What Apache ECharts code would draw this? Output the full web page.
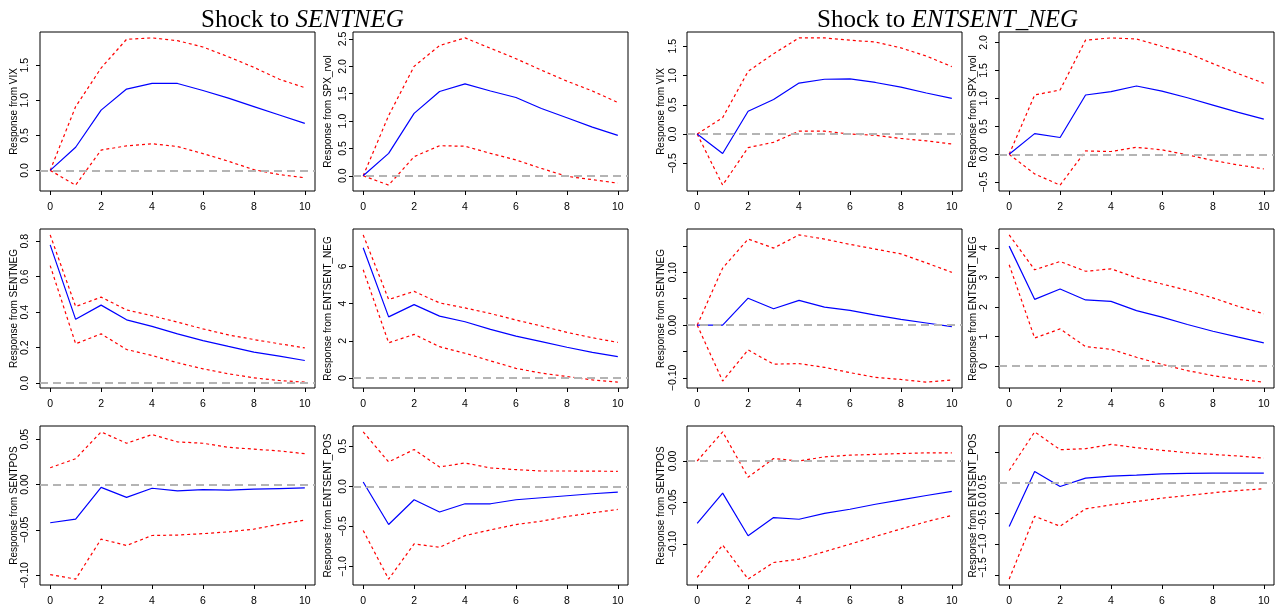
<!DOCTYPE html>
<html>
<head>
<meta charset="utf-8">
<script src="https://cdn.jsdelivr.net/npm/echarts@6/dist/echarts.min.js"></script>
<style>
  html, body { margin: 0; padding: 0; background: #fff; }
  #main { width: 1280px; height: 608px; }
</style>
</head>
<body>
<div id="main"></div>
<script>
// horizon (x axis)
var horizon = [0, 1, 2, 3, 4, 5, 6, 7, 8, 9, 10];
var xTicks = [0, 2, 4, 6, 8, 10];
var xLabels = ['0', '2', '4', '6', '8', '10'];

// ---- shock to SENTNEG ----
var vixNeg   = [0, 0.33, 0.86, 1.16, 1.24, 1.24, 1.14, 1.03, 0.91, 0.79, 0.67];
var vixNegUp = [0, 0.91, 1.46, 1.87, 1.89, 1.85, 1.76, 1.62, 1.47, 1.30, 1.18];
var vixNegLo = [0, -0.21, 0.29, 0.35, 0.38, 0.34, 0.24, 0.13, 0.01, -0.06, -0.105];

var spxNeg   = [0, 0.41, 1.14, 1.54, 1.68, 1.55, 1.43, 1.23, 1.06, 0.89, 0.74];
var spxNegUp = [0, 1.10, 2.00, 2.38, 2.52, 2.33, 2.14, 1.93, 1.73, 1.55, 1.34];
var spxNegLo = [0, -0.17, 0.35, 0.55, 0.54, 0.41, 0.29, 0.135, -0.01, -0.07, -0.135];

var sentnegNeg   = [0.78, 0.36, 0.44, 0.357, 0.32, 0.278, 0.24, 0.207, 0.175, 0.152, 0.128];
var sentnegNegUp = [0.836, 0.432, 0.485, 0.413, 0.38, 0.344, 0.306, 0.272, 0.246, 0.222, 0.199];
var sentnegNegLo = [0.663, 0.222, 0.278, 0.19, 0.156, 0.115, 0.081, 0.053, 0.03, 0.015, 0.006];

var entnegNeg   = [7.0, 3.29, 3.95, 3.33, 3.03, 2.62, 2.26, 1.96, 1.66, 1.39, 1.16];
var entnegNegUp = [7.69, 4.22, 4.66, 4.04, 3.77, 3.47, 3.12, 2.80, 2.46, 2.17, 1.92];
var entnegNegLo = [5.82, 1.90, 2.35, 1.69, 1.34, 0.93, 0.53, 0.27, 0.09, -0.09, -0.21];

var sentposNeg   = [-0.042, -0.038, -0.003, -0.014, -0.004, -0.007, -0.0056, -0.006, -0.005, -0.0044, -0.0037];
var sentposNegUp = [0.0185, 0.0285, 0.058, 0.0455, 0.055, 0.047, 0.0455, 0.041, 0.039, 0.037, 0.034];
var sentposNegLo = [-0.099, -0.104, -0.060, -0.067, -0.056, -0.0555, -0.054, -0.052, -0.049, -0.0437, -0.039];

var entposNeg   = [0.054, -0.476, -0.167, -0.32, -0.217, -0.217, -0.167, -0.142, -0.117, -0.092, -0.071];
var entposNegUp = [0.68, 0.305, 0.46, 0.242, 0.292, 0.23, 0.209, 0.192, 0.192, 0.19, 0.188];
var entposNegLo = [-0.55, -1.157, -0.718, -0.76, -0.614, -0.543, -0.476, -0.434, -0.376, -0.33, -0.288];

// ---- shock to ENTSENT_NEG ----
var vixEnt   = [0, -0.33, 0.39, 0.59, 0.87, 0.935, 0.94, 0.88, 0.80, 0.70, 0.61];
var vixEntUp = [0, 0.28, 1.07, 1.37, 1.64, 1.64, 1.60, 1.57, 1.47, 1.33, 1.15];
var vixEntLo = [0, -0.87, -0.23, -0.14, 0.05, 0.05, 0.0, -0.02, -0.075, -0.115, -0.17];

var spxEnt   = [0, 0.37, 0.30, 1.06, 1.12, 1.22, 1.13, 1.01, 0.88, 0.75, 0.63];
var spxEntUp = [0, 1.06, 1.15, 2.04, 2.08, 2.06, 1.93, 1.81, 1.62, 1.44, 1.27];
var spxEntLo = [0, -0.35, -0.55, 0.06, 0.05, 0.125, 0.08, -0.01, -0.11, -0.19, -0.26];

var sentnegEnt   = [0, 0, 0.051, 0.031, 0.047, 0.034, 0.028, 0.019, 0.011, 0.004, -0.003];
var sentnegEntUp = [0, 0.108, 0.163, 0.146, 0.171, 0.163, 0.153, 0.144, 0.135, 0.118, 0.10];
var sentnegEntLo = [0, -0.106, -0.047, -0.074, -0.073, -0.08, -0.09, -0.099, -0.103, -0.108, -0.104];

var entnegEnt   = [4.06, 2.26, 2.61, 2.24, 2.19, 1.88, 1.66, 1.41, 1.18, 0.98, 0.79];
var entnegEntUp = [4.44, 3.26, 3.54, 3.21, 3.29, 2.99, 2.78, 2.56, 2.31, 2.02, 1.77];
var entnegEntLo = [3.43, 0.95, 1.26, 0.66, 0.57, 0.30, 0.06, -0.15, -0.32, -0.45, -0.54];

var sentposEnt   = [-0.075, -0.0386, -0.0898, -0.068, -0.070, -0.063, -0.058, -0.052, -0.0467, -0.0415, -0.0366];
var sentposEntUp = [0.0, 0.035, -0.0195, 0.003, 0.0, 0.005, 0.007, 0.008, 0.009, 0.0098, 0.0098];
var sentposEntLo = [-0.14, -0.101, -0.142, -0.122, -0.118, -0.109, -0.10, -0.0907, -0.0817, -0.073, -0.0654];

var entposEnt   = [-0.714, 0.185, -0.06, 0.076, 0.109, 0.125, 0.147, 0.153, 0.158, 0.158, 0.158];
var entposEntUp = [0.20, 0.83, 0.54, 0.556, 0.627, 0.572, 0.53, 0.49, 0.463, 0.436, 0.403];
var entposEntLo = [-1.57, -0.545, -0.708, -0.425, -0.36, -0.305, -0.25, -0.207, -0.163, -0.125, -0.098];

// y tick values and their labels
var ticksVix1 = [0, 0.5, 1, 1.5];            var labelsVix1 = ['0.0', '0.5', '1.0', '1.5'];
var ticksSpx1 = [0, 0.5, 1, 1.5, 2, 2.5];    var labelsSpx1 = ['0.0', '0.5', '1.0', '1.5', '2.0', '2.5'];
var ticksSn1  = [0, 0.2, 0.4, 0.6, 0.8];     var labelsSn1  = ['0.0', '0.2', '0.4', '0.6', '0.8'];
var ticksEn1  = [0, 2, 4, 6];                var labelsEn1  = ['0', '2', '4', '6'];
var ticksSp1  = [-0.1, -0.05, 0, 0.05];      var labelsSp1  = ['\u22120.10', '\u22120.05', '0.00', '0.05'];
var ticksEp1  = [-1, -0.5, 0, 0.5];          var labelsEp1  = ['\u22121.0', '\u22120.5', '0.0', '0.5'];
var ticksVix2 = [-0.5, 0, 0.5, 1, 1.5];      var labelsVix2 = ['\u22120.5', '0.0', '0.5', '1.0', '1.5'];
var ticksSpx2 = [-0.5, 0, 0.5, 1, 1.5, 2];   var labelsSpx2 = ['\u22120.5', '0.0', '0.5', '1.0', '1.5', '2.0'];
var ticksSn2  = [-0.1, -0.05, 0, 0.05, 0.1, 0.15]; var labelsSn2 = ['\u22120.10', '', '0.00', '', '0.10', ''];
var ticksEn2  = [0, 1, 2, 3, 4];             var labelsEn2  = ['0', '1', '2', '3', '4'];
var ticksSp2  = [-0.15, -0.1, -0.05, 0];     var labelsSp2  = ['\u22120.15', '\u22120.10', '\u22120.05', '0.00'];
var ticksEp2  = [-1.5, -1, -0.5, 0.5];       var labelsEp2  = ['\u22121.5', '\u22121.0', '\u22120.5', '0.0', '0.5'];

var panels = [
  { row: 0, col: 0, name: 'Response from VIX', irf: vixNeg, up: vixNegUp, lo: vixNegLo, ticks: ticksVix1, labels: labelsVix1 },
  { row: 0, col: 1, name: 'Response from SPX_rvol', irf: spxNeg, up: spxNegUp, lo: spxNegLo, ticks: ticksSpx1, labels: labelsSpx1 },
  { row: 1, col: 0, name: 'Response from SENTNEG', irf: sentnegNeg, up: sentnegNegUp, lo: sentnegNegLo, ticks: ticksSn1, labels: labelsSn1 },
  { row: 1, col: 1, name: 'Response from ENTSENT_NEG', irf: entnegNeg, up: entnegNegUp, lo: entnegNegLo, ticks: ticksEn1, labels: labelsEn1 },
  { row: 2, col: 0, name: 'Response from SENTPOS', irf: sentposNeg, up: sentposNegUp, lo: sentposNegLo, ticks: ticksSp1, labels: labelsSp1 },
  { row: 2, col: 1, name: 'Response from ENTSENT_POS', irf: entposNeg, up: entposNegUp, lo: entposNegLo, ticks: ticksEp1, labels: labelsEp1 },
  { row: 0, col: 2, name: 'Response from VIX', irf: vixEnt, up: vixEntUp, lo: vixEntLo, ticks: ticksVix2, labels: labelsVix2 },
  { row: 0, col: 3, name: 'Response from SPX_rvol', irf: spxEnt, up: spxEntUp, lo: spxEntLo, ticks: ticksSpx2, labels: labelsSpx2 },
  { row: 1, col: 2, name: 'Response from SENTNEG', irf: sentnegEnt, up: sentnegEntUp, lo: sentnegEntLo, ticks: ticksSn2, labels: labelsSn2 },
  { row: 1, col: 3, name: 'Response from ENTSENT_NEG', irf: entnegEnt, up: entnegEntUp, lo: entnegEntLo, ticks: ticksEn2, labels: labelsEn2 },
  { row: 2, col: 2, name: 'Response from SENTPOS', irf: sentposEnt, up: sentposEntUp, lo: sentposEntLo, ticks: ticksSp2, labels: labelsSp2 },
  // the last panel's tick labels came out stacked next to the axis title in the original
  { row: 2, col: 3, name: 'Response from ENTSENT_POS', irf: entposEnt, up: entposEntUp, lo: entposEntLo, ticks: ticksEp2, labels: labelsEp2, stacked: true }
];

// layout (px)
var colLeft = [40, 353, 687, 999];
var rowTop = [32, 229, 426];
var boxW = 275, boxH = 159;
var labelMargin = [9, 4, 8, 9];
var nameGap = [21, 20, 21, 21];

var font = 'Liberation Sans';
var grids = [], xAxes = [], yAxes = [], series = [], graphics = [];

function pairs(arr) {
  return horizon.map(function (t, i) { return [t, arr[i]]; });
}

panels.forEach(function (p, i) {
  var all = p.irf.concat(p.up, p.lo);
  var lo = Math.min.apply(null, all), hi = Math.max.apply(null, all);
  var pad = (hi - lo) * 0.04;

  grids.push({
    left: colLeft[p.col], top: rowTop[p.row], width: boxW, height: boxH,
    show: true, borderColor: '#000', borderWidth: 1, backgroundColor: 'transparent',
    outerBoundsMode: 'none', containLabel: false
  });

  xAxes.push({
    gridIndex: i, type: 'value', min: -0.4, max: 10.4,
    axisLine: { show: false, onZero: false },
    splitLine: { show: false },
    axisTick: { show: true, inside: false, length: 4, customValues: xTicks, lineStyle: { color: '#000' } },
    axisLabel: {
      customValues: xTicks, margin: 11, color: '#000', fontSize: 10.5, fontFamily: font,
      formatter: function (v) { return xLabels[xTicks.indexOf(v)]; }
    }
  });

  var labelVals = p.ticks.filter(function (v, k) { return p.labels[k] !== ''; });
  yAxes.push({
    gridIndex: i, type: 'value', min: lo - pad, max: hi + pad,
    axisLine: { show: false, onZero: false },
    splitLine: { show: false },
    axisTick: { show: true, inside: false, length: 4, customValues: p.ticks, lineStyle: { color: '#000' } },
    axisLabel: {
      show: !p.stacked,
      customValues: labelVals, rotate: 90, margin: labelMargin[p.col],
      color: '#000', fontSize: 10.5, fontFamily: font,
      formatter: function (v) {
        var k = 0;
        p.ticks.forEach(function (t, j) { if (Math.abs(t - v) < Math.abs(p.ticks[k] - v)) k = j; });
        return p.labels[k];
      }
    },
    name: p.name, nameLocation: 'middle', nameGap: nameGap[p.col], nameMoveOverlap: false,
    nameTextStyle: { color: '#000', fontSize: 10, fontFamily: font }
  });

  series.push({
    type: 'line', xAxisIndex: i, yAxisIndex: i, data: pairs(p.irf),
    symbol: 'none', lineStyle: { color: '#0000ff', width: 1.2 }, z: 3,
    markLine: {
      silent: true, symbol: ['none', 'none'], label: { show: false },
      lineStyle: { color: '#b4b4b4', type: [8, 5], width: 2 },
      data: [{ yAxis: 0 }]
    }
  });
  [p.up, p.lo].forEach(function (band) {
    series.push({
      type: 'line', xAxisIndex: i, yAxisIndex: i, data: pairs(band),
      symbol: 'none', lineStyle: { color: '#ff0000', width: 1.2, type: [3, 3] }, z: 2
    });
  });

  if (p.stacked) {
    graphics.push({
      type: 'text', x: colLeft[p.col] - 16, y: rowTop[p.row] + boxH - 7, rotation: Math.PI / 2,
      style: {
        text: p.labels.join(' '), fill: '#000', font: '10.5px ' + font,
        textAlign: 'left', textVerticalAlign: 'middle'
      }
    });
  }
});

var serif = 'Liberation Serif';
var titleRich = {
  a: { fontFamily: serif, fontSize: 25, fontWeight: 'normal', color: '#000' },
  b: { fontFamily: serif, fontSize: 25, fontWeight: 'normal', fontStyle: 'italic', color: '#000' }
};
var chart = echarts.init(document.getElementById('main'));
chart.setOption({
  animation: false,
  backgroundColor: '#fff',
  title: [
    { text: '{a|Shock to }{b|SENTNEG}', left: 196, top: 3, textStyle: { fontWeight: 'normal', rich: titleRich } },
    { text: '{a|Shock to }{b|ENTSENT_NEG}', left: 812, top: 3, textStyle: { fontWeight: 'normal', rich: titleRich } }
  ],
  grid: grids,
  xAxis: xAxes,
  yAxis: yAxes,
  series: series,
  graphic: graphics
});
</script>
</body>
</html>
